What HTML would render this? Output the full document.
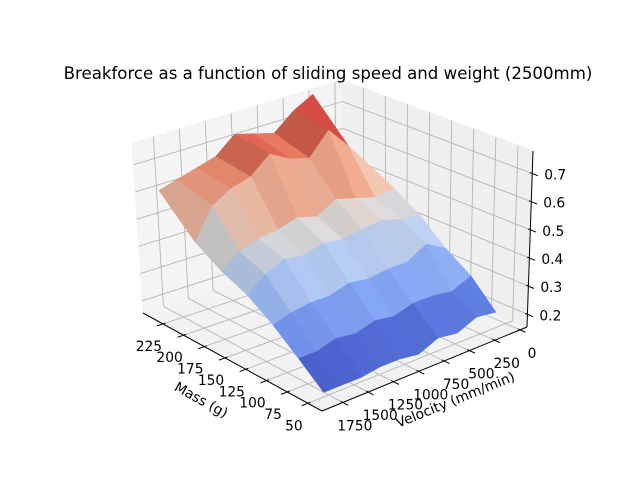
<!DOCTYPE html>
<html><head><meta charset="utf-8"><style>
html,body{margin:0;padding:0;background:#fff;}
svg{display:block;font-family:"DejaVu Sans","Liberation Sans",sans-serif;}
</style></head><body>
<svg id="chart" width="640" height="480" viewBox="0 0 640 480" xmlns="http://www.w3.org/2000/svg">
<rect x="0" y="0" width="640" height="480" fill="#ffffff"/>
<g id="panes"></g>
<g id="grid"></g>
<g id="axes"></g>
<g id="surface"></g>
<text x="328" y="79" text-anchor="middle" font-size="16.6" fill="#000">Breakforce as a function of sliding speed and weight (2500mm)</text>
<text x="0" y="0" font-size="13.8" text-anchor="middle" transform="translate(199,404) rotate(29)">Mass (g)</text>
<text x="0" y="0" font-size="13.8" text-anchor="middle" transform="translate(457,404) rotate(-22)">Velocity (mm/min)</text>
</svg>
<script>
const massValues = [50, 80, 110, 140, 170, 200, 240];
const velocityValues = [100, 290, 480, 670, 860, 1050, 1240, 1430, 1620, 1800];
const forceValues = [
  [0.21,0.22,0.19,0.20,0.17,0.18,0.18,0.17,0.17,0.17],
  [0.30,0.27,0.28,0.28,0.26,0.27,0.25,0.26,0.24,0.24],
  [0.36,0.40,0.36,0.36,0.35,0.36,0.34,0.34,0.33,0.31],
  [0.44,0.45,0.47,0.46,0.45,0.46,0.44,0.45,0.42,0.37],
  [0.50,0.49,0.51,0.53,0.49,0.51,0.49,0.48,0.46,0.41],
  [0.55,0.64,0.72,0.64,0.66,0.70,0.64,0.62,0.58,0.47],
  [0.58,0.78,0.74,0.68,0.70,0.72,0.66,0.64,0.62,0.60]
];
const massTicks = [50,75,100,125,150,175,200,225];
const velocityTicks = [0,250,500,750,1000,1250,1500,1750];
const zTicks = [0.2,0.3,0.4,0.5,0.6,0.7];
const zTickLabels = ["0.2","0.3","0.4","0.5","0.6","0.7"];

const NS="http://www.w3.org/2000/svg";
const C000={x:322,y:411}, C100={x:143,y:313}, C010={x:527,y:327}, C110={x:344,y:248};
const C001={x:322,y:222}, C101={x:132,y:143}, C011={x:533,y:151}, C111={x:342,y:80};
const mMin=33,mMax=249,vMin=-69,vMax=1956,zMin=0.155,zMax=0.78;
function lerp(p,q,t){return {x:p.x+(q.x-p.x)*t,y:p.y+(q.y-p.y)*t};}
function proj(a,b,c){
  const f0=lerp(lerp(C000,C100,a),lerp(C010,C110,a),b);
  const f1=lerp(lerp(C001,C101,a),lerp(C011,C111,a),b);
  return lerp(f0,f1,c);
}
function am(m){return (m-mMin)/(mMax-mMin);}
function bv(v){return (vMax-v)/(vMax-vMin);}
function cz(z){return (z-zMin)/(zMax-zMin);}
function mk(tag,attrs,parent){const e=document.createElementNS(NS,tag);for(const k in attrs)e.setAttribute(k,attrs[k]);parent.appendChild(e);return e;}
function pts(arr){return arr.map(p=>p.x.toFixed(2)+","+p.y.toFixed(2)).join(" ");}

const panes=document.getElementById('panes');
let p=mk('polygon',{points:pts([proj(0,0,0),proj(1,0,0),proj(1,1,0),proj(0,1,0)]),fill:'#f2f2f2',stroke:'#f2f2f2'},panes);


p=mk('polygon',{points:pts([proj(1,0,0),proj(1,1,0),proj(1,1,1),proj(1,0,1)]),fill:'#f4f4f4',stroke:'#f4f4f4'},panes);


p=mk('polygon',{points:pts([proj(1,1,0),proj(0,1,0),proj(0,1,1),proj(1,1,1)]),fill:'#efefef',stroke:'#efefef'},panes);



const grid=document.getElementById('grid');
function gl(p1,p2,name){const l=mk('line',{x1:p1.x,y1:p1.y,x2:p2.x,y2:p2.y,stroke:'#b5b5b5','stroke-width':0.9},grid);}
massTicks.forEach(m=>{const a=am(m);gl(proj(a,0,0),proj(a,1,0),'mass-gridline');gl(proj(a,1,0),proj(a,1,1),'mass-wall-gridline');});
velocityTicks.forEach(v=>{const b=bv(v);gl(proj(0,b,0),proj(1,b,0),'velocity-gridline');gl(proj(1,b,0),proj(1,b,1),'velocity-wall-gridline');});
zTicks.forEach(z=>{const c=cz(z);gl(proj(1,0,c),proj(1,1,c),'z-gridline-left');gl(proj(1,1,c),proj(0,1,c),'z-gridline-right');});

const axes=document.getElementById('axes');
function al(p1,p2,name,w){const l=mk('line',{x1:p1.x,y1:p1.y,x2:p2.x,y2:p2.y,stroke:'#000','stroke-width':w||1},axes);}
function tx(x,y,s,name,anchor){const t=mk('text',{x:x,y:y,'font-size':13.8,'text-anchor':anchor||'middle','dominant-baseline':'central'},axes);t.textContent=s;}
al(proj(1,0,0),proj(0,0,0),'mass-axis-line');
al(proj(0,0,0),proj(0,1,0),'velocity-axis-line');
al(proj(0,1,0),proj(0,1,1),'z-axis-line');
massTicks.forEach(m=>{const a=am(m);al(proj(a,0.012,0),proj(a,-0.03,0),'mass-tick');const q=proj(a,0,0);tx(q.x-14,q.y+23,String(m),'mass-tick-label');});
velocityTicks.forEach(v=>{const b=bv(v);al(proj(0.012,b,0),proj(-0.03,b,0),'velocity-tick');const q=proj(0,b,0);tx(q.x+12,q.y+24,String(v),'velocity-tick-label');});
zTicks.forEach((z,i)=>{const c=cz(z);al(proj(0.012,1,c),proj(-0.03,1,c),'z-tick');const q=proj(0,1,c);tx(q.x+12,q.y+2,zTickLabels[i],'z-tick-label','start');});

const cw=[[0,59,76,192],[0.125,98,130,234],[0.25,141,176,254],[0.375,184,208,249],[0.5,221,221,221],[0.625,245,196,173],[0.75,244,154,123],[0.875,222,96,77],[1,180,4,38]];
function cmap(t){t=Math.max(0,Math.min(1,t));for(let i=1;i<cw.length;i++){if(t<=cw[i][0]){const a=cw[i-1],b=cw[i],f=(t-a[0])/(b[0]-a[0]);return [a[1]+f*(b[1]-a[1]),a[2]+f*(b[2]-a[2]),a[3]+f*(b[3]-a[3])];}}return [180,4,38];}
let zlo=Infinity,zhi=-Infinity;forceValues.forEach(r=>r.forEach(z=>{zlo=Math.min(zlo,z);zhi=Math.max(zhi,z);}));
const faces=[];
for(let i=0;i<massValues.length-1;i++){for(let j=0;j<velocityValues.length-1;j++){
  const A=[[i,j],[i+1,j],[i+1,j+1],[i,j+1]].map(([ii,jj])=>({a:am(massValues[ii]),b:bv(velocityValues[jj]),c:cz(forceValues[ii][jj]),z:forceValues[ii][jj]}));
  const zavg=A.reduce((s,q)=>s+q.z,0)/4;
  const near=A.reduce((s,q)=>s+(2-q.a-q.b),0)/4;
  const u=[A[2].a-A[0].a,A[2].b-A[0].b,A[2].c-A[0].c], w=[A[3].a-A[1].a,A[3].b-A[1].b,A[3].c-A[1].c];
  let n=[u[1]*w[2]-u[2]*w[1],u[2]*w[0]-u[0]*w[2],u[0]*w[1]-u[1]*w[0]];
  const nl=Math.hypot(n[0],n[1],n[2]);n=n.map(x=>x/nl);if(n[2]<0)n=n.map(x=>-x);
  const lt=[-0.3,0.7,0.6];const ll=Math.hypot(...lt);
  const d=(n[0]*lt[0]+n[1]*lt[1]+n[2]*lt[2])/ll;
  faces.push({A,zavg,near,d});
}}
faces.sort((p,q)=>p.near-q.near);
const surf=document.getElementById('surface');
faces.forEach(fc=>{
  const col=cmap((fc.zavg-zlo)/(zhi-zlo));
  const s=Math.min(1,0.88+0.14*fc.d);
  const rgb=col.map(v=>Math.round(v*s));
  const c='rgb('+rgb.join(',')+')';
  const poly=mk('polygon',{points:pts(fc.A.map(q=>proj(q.a,q.b,q.c))),fill:c,stroke:c,'stroke-width':0.5,'stroke-linejoin':'round'},surf);
  
  
});
</script>
</body></html>
